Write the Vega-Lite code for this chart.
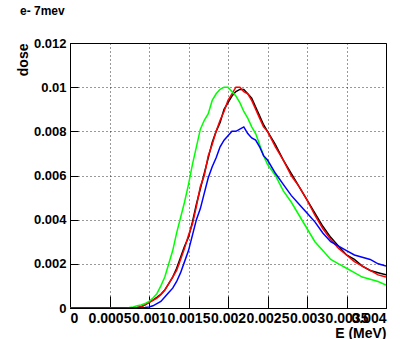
{
  "$schema": "https://vega.github.io/schema/vega-lite/v6.json",
  "width": 316,
  "height": 265,
  "autosize": {"type": "none"},
  "padding": {"left": 70, "top": 43, "right": 14, "bottom": 31},
  "background": "white",
  "title": {"text": "e- 7mev", "anchor": "start", "align": "left", "dx": -50, "offset": 19, "font": "Liberation Sans", "fontSize": 12, "fontWeight": "bold", "color": "black", "frame": "group"},
  "config": {
    "view": {"stroke": "black", "strokeWidth": 1},
    "axis": {
      "labelFont": "Liberation Sans", "labelFontWeight": "bold", "labelFontSize": 13, "labelColor": "black",
      "titleFont": "Liberation Sans", "titleFontWeight": "bold", "titleFontSize": 14, "titleColor": "black",
      "domainColor": "black", "tickColor": "black",
      "gridColor": "black", "gridDash": [1, 3], "gridOpacity": 0.8, "gridWidth": 1,
      "labelOverlap": false
    }
  },
  "datasets": {
    "k": [
      {"x": 0, "y": 0}, {"x": 0.0008, "y": 0}, {"x": 0.00085, "y": 0.00002}, {"x": 0.0009, "y": 0.00006}, {"x": 0.00095, "y": 0.00014},
      {"x": 0.001, "y": 0.00026}, {"x": 0.00105, "y": 0.00036}, {"x": 0.0011, "y": 0.00048}, {"x": 0.00115, "y": 0.00062}, {"x": 0.0012, "y": 0.00082},
      {"x": 0.00125, "y": 0.0011}, {"x": 0.0013, "y": 0.0014}, {"x": 0.00135, "y": 0.0018}, {"x": 0.0014, "y": 0.0023}, {"x": 0.00145, "y": 0.0028},
      {"x": 0.0015, "y": 0.0032}, {"x": 0.00155, "y": 0.0039}, {"x": 0.0016, "y": 0.0047}, {"x": 0.00165, "y": 0.0054}, {"x": 0.0017, "y": 0.0061},
      {"x": 0.00175, "y": 0.0068}, {"x": 0.0018, "y": 0.0075}, {"x": 0.00185, "y": 0.008}, {"x": 0.0019, "y": 0.0084}, {"x": 0.00195, "y": 0.009},
      {"x": 0.002, "y": 0.0093}, {"x": 0.00205, "y": 0.0096}, {"x": 0.0021, "y": 0.0098}, {"x": 0.00215, "y": 0.0099}, {"x": 0.0022, "y": 0.0099},
      {"x": 0.00225, "y": 0.0097}, {"x": 0.0023, "y": 0.0095}, {"x": 0.00235, "y": 0.0091}, {"x": 0.0024, "y": 0.0087}, {"x": 0.00245, "y": 0.0083},
      {"x": 0.0025, "y": 0.008}, {"x": 0.0026, "y": 0.0074}, {"x": 0.0027, "y": 0.0067}, {"x": 0.0028, "y": 0.0061}, {"x": 0.0029, "y": 0.0055},
      {"x": 0.003, "y": 0.0049}, {"x": 0.0031, "y": 0.0043}, {"x": 0.0032, "y": 0.0037}, {"x": 0.0033, "y": 0.0032}, {"x": 0.0034, "y": 0.0028},
      {"x": 0.0035, "y": 0.0024}, {"x": 0.0036, "y": 0.0022}, {"x": 0.0037, "y": 0.0019}, {"x": 0.0038, "y": 0.0017}, {"x": 0.0039, "y": 0.0016},
      {"x": 0.004, "y": 0.0015}
    ],
    "r": [
      {"x": 0, "y": 0}, {"x": 0.0008, "y": 0}, {"x": 0.00085, "y": 0.00002}, {"x": 0.0009, "y": 0.00005}, {"x": 0.00095, "y": 0.00015},
      {"x": 0.001, "y": 0.00025}, {"x": 0.00105, "y": 0.00035}, {"x": 0.0011, "y": 0.00045}, {"x": 0.00115, "y": 0.0006}, {"x": 0.0012, "y": 0.0008},
      {"x": 0.00125, "y": 0.0011}, {"x": 0.0013, "y": 0.0014}, {"x": 0.00135, "y": 0.0017}, {"x": 0.0014, "y": 0.0022}, {"x": 0.00145, "y": 0.0027},
      {"x": 0.0015, "y": 0.0033}, {"x": 0.00155, "y": 0.0038}, {"x": 0.0016, "y": 0.0046}, {"x": 0.00165, "y": 0.0055}, {"x": 0.0017, "y": 0.006},
      {"x": 0.00175, "y": 0.0069}, {"x": 0.0018, "y": 0.0074}, {"x": 0.00185, "y": 0.008}, {"x": 0.0019, "y": 0.0085}, {"x": 0.00195, "y": 0.0089},
      {"x": 0.002, "y": 0.0094}, {"x": 0.00205, "y": 0.0097}, {"x": 0.0021, "y": 0.01}, {"x": 0.00215, "y": 0.01}, {"x": 0.0022, "y": 0.0098},
      {"x": 0.00225, "y": 0.0097}, {"x": 0.0023, "y": 0.0094}, {"x": 0.00235, "y": 0.009}, {"x": 0.0024, "y": 0.0086}, {"x": 0.00245, "y": 0.0082},
      {"x": 0.0025, "y": 0.008}, {"x": 0.0026, "y": 0.0073}, {"x": 0.0027, "y": 0.0067}, {"x": 0.0028, "y": 0.006}, {"x": 0.0029, "y": 0.0055},
      {"x": 0.003, "y": 0.0049}, {"x": 0.0031, "y": 0.0042}, {"x": 0.0032, "y": 0.0036}, {"x": 0.0033, "y": 0.0031}, {"x": 0.0034, "y": 0.0027},
      {"x": 0.0035, "y": 0.0024}, {"x": 0.0036, "y": 0.0021}, {"x": 0.0037, "y": 0.0019}, {"x": 0.0038, "y": 0.0017}, {"x": 0.0039, "y": 0.0015},
      {"x": 0.004, "y": 0.0014}
    ],
    "g": [
      {"x": 0, "y": 0}, {"x": 0.0007, "y": 0}, {"x": 0.00075, "y": 0.00002}, {"x": 0.0008, "y": 0.00005}, {"x": 0.00085, "y": 0.0001}, {"x": 0.0009, "y": 0.00014}, {"x": 0.00095, "y": 0.0002},
      {"x": 0.001, "y": 0.0003}, {"x": 0.00105, "y": 0.00045}, {"x": 0.0011, "y": 0.00065}, {"x": 0.00115, "y": 0.001}, {"x": 0.0012, "y": 0.0014},
      {"x": 0.00125, "y": 0.002}, {"x": 0.0013, "y": 0.0026}, {"x": 0.00135, "y": 0.0034}, {"x": 0.0014, "y": 0.0041}, {"x": 0.00145, "y": 0.0048},
      {"x": 0.0015, "y": 0.0056}, {"x": 0.00155, "y": 0.0065}, {"x": 0.0016, "y": 0.0073}, {"x": 0.00165, "y": 0.0081}, {"x": 0.0017, "y": 0.0085},
      {"x": 0.00175, "y": 0.0088}, {"x": 0.0018, "y": 0.0094}, {"x": 0.00185, "y": 0.0097}, {"x": 0.0019, "y": 0.0099}, {"x": 0.00195, "y": 0.01},
      {"x": 0.002, "y": 0.01}, {"x": 0.00205, "y": 0.0098}, {"x": 0.0021, "y": 0.0096}, {"x": 0.00215, "y": 0.0093}, {"x": 0.0022, "y": 0.0089},
      {"x": 0.00225, "y": 0.0086}, {"x": 0.0023, "y": 0.0082}, {"x": 0.00235, "y": 0.0079}, {"x": 0.0024, "y": 0.0074}, {"x": 0.00245, "y": 0.0069},
      {"x": 0.0025, "y": 0.0065}, {"x": 0.0026, "y": 0.006}, {"x": 0.0027, "y": 0.0053}, {"x": 0.0028, "y": 0.0048}, {"x": 0.0029, "y": 0.0042},
      {"x": 0.003, "y": 0.0036}, {"x": 0.0031, "y": 0.003}, {"x": 0.0032, "y": 0.0026}, {"x": 0.0033, "y": 0.0022}, {"x": 0.0034, "y": 0.002},
      {"x": 0.0035, "y": 0.0018}, {"x": 0.0036, "y": 0.0016}, {"x": 0.0037, "y": 0.0014}, {"x": 0.0038, "y": 0.0013}, {"x": 0.0039, "y": 0.0012},
      {"x": 0.004, "y": 0.00104}
    ],
    "b": [
      {"x": 0, "y": 0}, {"x": 0.0009, "y": 0}, {"x": 0.00095, "y": 0.00002},
      {"x": 0.001, "y": 0.00005}, {"x": 0.00105, "y": 0.0001}, {"x": 0.0011, "y": 0.0002}, {"x": 0.00115, "y": 0.0003}, {"x": 0.0012, "y": 0.0005},
      {"x": 0.00125, "y": 0.0007}, {"x": 0.0013, "y": 0.0009}, {"x": 0.00135, "y": 0.0012}, {"x": 0.0014, "y": 0.0016}, {"x": 0.00145, "y": 0.0021},
      {"x": 0.0015, "y": 0.0026}, {"x": 0.00155, "y": 0.0033}, {"x": 0.0016, "y": 0.004}, {"x": 0.00165, "y": 0.0045}, {"x": 0.0017, "y": 0.0052},
      {"x": 0.00175, "y": 0.0059}, {"x": 0.0018, "y": 0.0064}, {"x": 0.00185, "y": 0.0068}, {"x": 0.0019, "y": 0.0073}, {"x": 0.00195, "y": 0.0076},
      {"x": 0.002, "y": 0.0078}, {"x": 0.00205, "y": 0.008}, {"x": 0.0021, "y": 0.008}, {"x": 0.00215, "y": 0.0081}, {"x": 0.0022, "y": 0.0082},
      {"x": 0.00225, "y": 0.0079}, {"x": 0.0023, "y": 0.0077}, {"x": 0.00235, "y": 0.0076}, {"x": 0.0024, "y": 0.0073}, {"x": 0.00245, "y": 0.0069},
      {"x": 0.0025, "y": 0.0067}, {"x": 0.0026, "y": 0.0061}, {"x": 0.0027, "y": 0.0056}, {"x": 0.0028, "y": 0.0051}, {"x": 0.0029, "y": 0.0047},
      {"x": 0.003, "y": 0.0043}, {"x": 0.0031, "y": 0.0039}, {"x": 0.0032, "y": 0.0034}, {"x": 0.0033, "y": 0.003}, {"x": 0.0034, "y": 0.0028},
      {"x": 0.0035, "y": 0.0026}, {"x": 0.0036, "y": 0.0024}, {"x": 0.0037, "y": 0.0023}, {"x": 0.0038, "y": 0.0022}, {"x": 0.0039, "y": 0.002},
      {"x": 0.004, "y": 0.0019}
    ]
  },
  "encoding": {
    "x": {"field": "x", "type": "quantitative", "scale": {"domain": [0, 0.004], "nice": false, "zero": false},
      "axis": {"title": "E (MeV)", "values": [0, 0.0005, 0.001, 0.0015, 0.002, 0.0025, 0.003, 0.0035, 0.004],
        "labelExpr": "format(datum.value, '~g')", "tickSize": -12, "labelPadding": 15, "labelFontSize": 14,
        "titleAnchor": "end", "titleAlign": "right", "titleX": 316, "titleY": 32, "titleBaseline": "bottom"}},
    "y": {"field": "y", "type": "quantitative", "scale": {"domain": [0, 0.012], "nice": false},
      "axis": {"title": "dose", "values": [0, 0.002, 0.004, 0.006, 0.008, 0.01, 0.012],
        "labelExpr": "format(datum.value, '~g')", "tickSize": -8, "labelPadding": 12,
        "titleAngle": -90, "titleAlign": "right", "titleBaseline": "middle", "titleX": -47, "titleY": 0}}
  },
  "layer": [
    {"data": {"name": "k"}, "mark": {"type": "line", "color": "black", "strokeWidth": 1.5, "clip": true}},
    {"data": {"name": "r"}, "mark": {"type": "line", "color": "#ff0000", "strokeWidth": 1.5, "clip": true}},
    {"data": {"name": "g"}, "mark": {"type": "line", "color": "#00ff00", "strokeWidth": 1.5, "clip": true}},
    {"data": {"name": "b"}, "mark": {"type": "line", "color": "#0000ff", "strokeWidth": 1.5, "clip": true}}
  ]
}
